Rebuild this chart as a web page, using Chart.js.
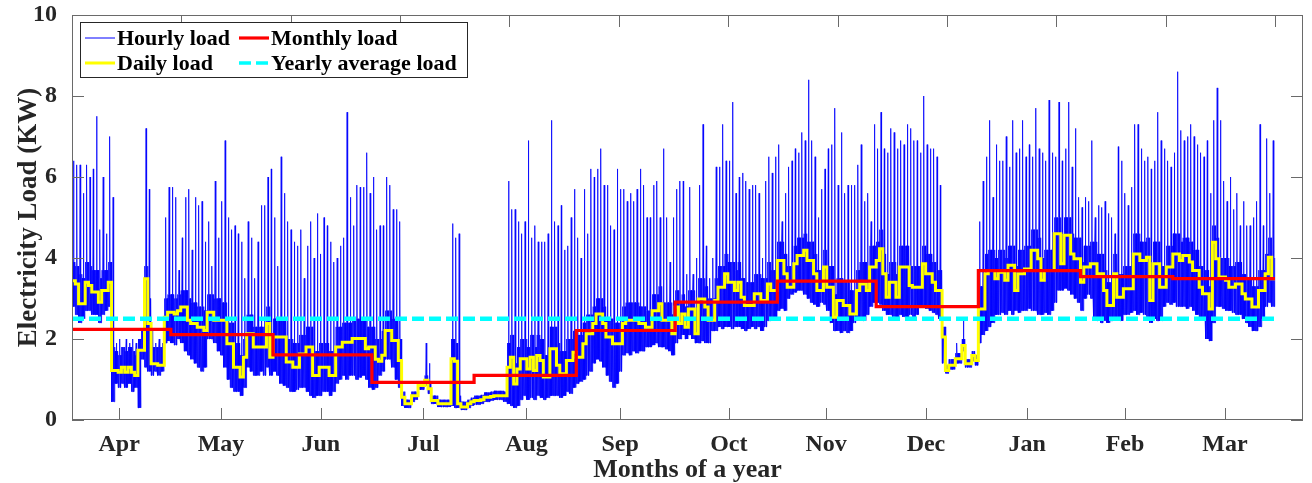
<!DOCTYPE html>
<html>
<head>
<meta charset="utf-8">
<script src="https://cdn.jsdelivr.net/npm/chart.js"></script>
<style>
html,body{margin:0;padding:0;background:#ffffff;}
#wrap{width:1312px;height:483px;position:relative;}
</style>
</head>
<body>
<div id="wrap"><canvas id="c" width="1312" height="483"></canvas></div>
<script>
// ---- axis labels / ticks (x in days from 1 April) ----
const monthLabels = ['Apr','May','Jun','Jul','Aug','Sep','Oct','Nov','Dec','Jan','Feb','Mar'];
const monthTickDays = [14.3,45.2,75.5,106.6,137.9,166.3,199.3,228.8,259.1,289.8,319.5,349.8];
const topTickDays = [33.2,66.4,99.5,132.7,165.9,199.1,232.3,265.5,298.6,331.8,365];
const yTicks = [0,2,4,6,8,10];

// ---- monthly load (stepped) ----
const monthStartDays = [0,30,61,91,122,153,183,214,244,275,306,334,365];
const monthlyLoad = [2.24,2.11,1.61,0.93,1.10,2.21,2.91,3.43,2.80,3.69,3.54,3.49];

// ---- yearly average ----
const yearlyAverage = 2.5;

// ---- daily load (one value per day) ----
const dailyLoad = [
3.44,3.36,2.87,2.87,3.40,3.32,3.16,3.16,2.91,3.20,
3.20,3.40,1.22,1.22,1.18,1.30,1.18,1.30,1.18,1.10,
1.72,1.72,3.49,2.38,1.39,1.39,1.35,1.35,2.54,2.66,
2.66,2.62,2.70,2.79,2.79,2.46,2.38,2.38,2.29,2.29,
2.21,2.66,2.66,2.46,2.46,2.46,2.46,1.88,1.88,1.30,
1.30,1.06,1.55,2.13,2.13,1.80,1.80,1.80,1.80,2.38,
1.55,2.05,2.05,2.05,2.05,1.43,1.43,1.30,1.30,1.63,
1.63,1.80,1.80,1.10,1.10,1.30,1.30,1.30,1.10,1.10,
1.80,1.80,1.92,1.92,1.92,2.01,2.01,2.01,2.01,1.76,
1.80,1.80,1.50,1.45,1.60,2.21,2.21,1.96,1.96,1.47,
0.56,0.40,0.40,0.60,0.60,0.85,0.85,0.98,0.77,0.48,
0.48,0.40,0.40,0.40,0.40,1.51,1.45,0.40,0.32,0.32,
0.40,0.45,0.48,0.48,0.50,0.56,0.56,0.58,0.60,0.60,
0.60,0.60,1.30,1.55,0.89,1.26,1.51,1.51,1.26,1.55,
1.22,1.59,1.47,1.06,1.06,1.76,1.76,1.35,1.14,1.14,
1.47,1.47,1.67,1.55,1.55,1.88,2.13,2.13,2.38,2.62,
2.62,2.38,2.05,2.05,1.88,1.88,1.88,2.38,2.46,2.46,
2.46,2.46,2.38,2.38,2.29,2.29,2.70,2.70,2.87,2.46,
2.46,2.46,2.13,2.79,2.38,2.62,2.29,2.74,2.74,2.13,
2.99,2.99,2.79,2.46,2.46,2.95,3.28,3.28,3.61,3.40,
3.40,3.20,3.40,3.03,2.83,2.83,2.83,3.12,3.12,2.95,
2.95,3.36,3.20,3.20,3.94,3.94,3.61,3.28,3.28,3.86,
4.06,4.06,4.19,3.94,3.94,3.61,3.20,3.20,3.78,3.28,
3.28,2.54,2.95,2.95,2.83,2.83,2.62,2.62,3.20,3.36,
3.36,3.20,3.78,3.78,3.94,4.23,3.61,3.03,3.40,3.40,
3.03,3.78,3.78,3.78,3.32,3.28,3.28,3.28,3.86,3.61,
3.61,3.40,3.20,3.20,2.05,1.22,1.35,1.35,1.51,1.51,
1.84,1.39,1.39,1.59,1.47,2.74,2.74,3.61,3.69,3.69,
3.49,3.65,3.65,3.45,3.82,3.82,3.20,3.61,3.61,3.73,
3.73,4.19,4.19,3.98,3.45,3.69,3.69,3.69,4.60,4.60,
3.86,4.56,4.56,4.10,3.98,3.98,3.40,3.78,3.78,3.86,
3.86,3.61,3.61,3.20,2.83,2.83,3.61,3.03,3.03,3.24,
3.24,3.24,4.10,4.10,3.94,3.94,4.02,2.95,3.86,3.86,
3.28,3.28,3.78,3.78,4.10,4.10,3.94,4.06,4.06,3.90,
3.69,3.69,3.28,3.12,3.12,2.74,4.39,3.98,3.53,3.53,
3.45,3.28,3.28,3.36,3.36,3.12,2.99,2.99,2.79,2.79,
3.20,3.20,3.61,4.02,3.49];

// ---- hourly load, per day: lowest hour, typical high hour, peak hour (0 = no spike) ----
const hourlyLow = [
2.8,2.6,2.4,2.5,2.7,2.7,2.6,2.6,2.4,2.6,
2.7,2.8,0.45,0.9,0.8,0.9,0.8,0.9,0.7,0.8,
0.3,1.5,1.3,1.2,1.1,1.2,1.1,1.2,1.9,1.95,
1.9,1.85,2.0,1.9,1.7,1.6,1.5,1.4,1.3,1.2,
1.3,2.0,2.0,1.9,1.7,1.6,1.3,1.0,0.8,0.7,
0.7,0.6,0.8,1.3,1.2,1.1,1.1,1.2,1.1,1.3,
1.1,1.2,1.1,0.9,0.85,0.8,0.7,0.7,0.75,0.8,
0.8,0.7,0.6,0.55,0.6,0.6,0.7,0.7,0.6,0.7,
0.9,1.0,1.1,1.0,1.1,1.1,1.0,1.05,1.1,1.0,
0.8,0.75,0.8,1.1,1.2,1.5,1.5,1.3,1.0,0.8,
0.35,0.3,0.3,0.45,0.5,0.75,0.75,0.85,0.65,0.4,
0.4,0.32,0.32,0.32,0.32,0.35,0.3,0.3,0.25,0.25,
0.3,0.35,0.38,0.38,0.4,0.45,0.45,0.48,0.5,0.5,
0.5,0.45,0.4,0.35,0.3,0.35,0.5,0.6,0.5,0.55,
0.5,0.6,0.55,0.5,0.55,0.6,0.6,0.6,0.55,0.6,
0.7,0.65,0.8,0.9,0.95,1.0,1.1,1.2,1.4,1.5,
1.45,1.3,1.1,0.95,0.8,0.9,1.2,1.6,1.65,1.6,
1.7,1.65,1.7,1.7,1.8,1.8,1.85,1.9,1.8,1.8,
1.75,1.7,1.6,1.9,2.0,2.1,2.0,2.1,2.0,1.9,
1.9,1.95,1.9,1.9,2.2,2.2,2.3,2.25,2.3,2.3,
2.25,2.3,2.3,2.25,2.2,2.25,2.3,2.25,2.3,2.2,
2.3,2.45,2.5,2.5,2.7,2.75,2.7,3.0,3.1,3.15,
3.2,3.2,3.1,3.0,2.9,2.85,2.8,2.9,2.85,2.7,
2.4,2.2,2.2,2.15,2.2,2.15,2.2,2.4,2.5,2.5,
2.45,2.6,2.8,2.9,2.9,2.85,2.7,2.6,2.6,2.55,
2.5,2.6,2.55,2.5,2.6,2.55,2.6,2.8,2.8,2.75,
2.7,2.65,2.6,2.5,1.4,1.15,1.25,1.25,1.4,1.4,
1.7,1.3,1.3,1.45,1.35,1.9,2.1,2.2,2.3,2.4,
2.6,2.6,2.65,2.6,2.7,2.6,2.7,2.65,2.7,2.7,
2.75,2.7,2.7,2.6,2.6,2.65,2.6,2.7,2.9,3.2,
3.2,3.25,3.2,3.1,3.0,2.9,2.7,3.0,3.1,3.0,
2.5,2.45,2.4,2.45,2.4,2.45,2.5,2.45,2.45,2.6,
2.6,2.65,2.7,2.6,2.65,2.6,2.55,2.4,2.5,2.45,
2.45,2.8,2.9,2.85,2.9,2.8,2.8,2.8,2.75,2.8,
2.7,2.6,2.5,2.5,2.0,1.95,2.4,2.8,2.8,2.75,
2.7,2.7,2.65,2.6,2.6,2.5,2.4,2.3,2.2,2.2,
2.3,2.5,2.8,2.9,2.8];

const hourlyHigh = [
3.9,3.8,3.6,3.5,3.9,3.8,3.7,3.7,3.5,3.7,
3.7,3.9,1.8,1.7,1.6,1.8,1.7,1.8,1.7,1.6,
2.0,2.2,3.8,3.0,1.8,1.8,1.8,1.8,3.0,3.1,
3.1,3.0,3.1,3.2,3.2,3.0,2.9,2.9,2.8,2.8,
2.7,3.1,3.1,3.0,3.0,2.9,2.9,2.4,2.4,1.9,
1.9,1.6,2.0,2.6,2.6,2.3,2.3,2.3,2.3,2.8,
2.1,2.5,2.5,2.5,2.5,2.0,2.0,1.9,1.9,2.1,
2.1,2.3,2.3,1.7,1.7,1.9,1.9,1.9,1.7,1.7,
2.3,2.3,2.4,2.4,2.4,2.5,2.5,2.5,2.5,2.3,
2.3,2.3,2.0,2.0,2.2,2.7,2.7,2.5,2.5,2.0,
0.7,0.5,0.5,0.7,0.7,0.95,0.95,1.1,0.9,0.6,
0.6,0.5,0.5,0.5,0.5,2.0,1.9,0.6,0.45,0.45,
0.5,0.55,0.6,0.6,0.62,0.68,0.68,0.7,0.72,0.72,
0.72,0.7,1.9,2.1,1.4,1.8,2.0,2.0,1.8,2.1,
1.8,2.1,2.0,1.6,1.6,2.3,2.3,1.9,1.7,1.7,
2.0,2.0,2.2,2.1,2.1,2.4,2.6,2.6,2.8,3.0,
3.0,2.8,2.5,2.5,2.4,2.4,2.4,2.8,2.9,2.9,
2.9,2.9,2.8,2.8,2.7,2.7,3.1,3.1,3.3,2.9,
2.9,2.9,2.6,3.2,2.9,3.1,2.8,3.2,3.2,2.7,
3.5,3.5,3.3,3.0,3.0,3.5,3.8,3.8,4.1,3.9,
3.9,3.7,3.9,3.5,3.4,3.4,3.4,3.6,3.6,3.5,
3.5,3.9,3.7,3.7,4.4,4.4,4.1,3.8,3.8,4.3,
4.5,4.5,4.6,4.4,4.4,4.1,3.7,3.7,4.2,3.8,
3.8,3.1,3.5,3.5,3.4,3.4,3.2,3.2,3.7,3.9,
3.9,3.7,4.3,4.3,4.4,4.7,4.1,3.6,3.9,3.9,
3.6,4.3,4.3,4.3,3.8,3.8,3.8,3.8,4.3,4.1,
4.1,3.9,3.7,3.7,2.3,1.35,1.5,1.5,1.65,1.65,
2.0,1.5,1.5,1.7,1.6,3.3,3.3,4.1,4.2,4.2,
4.0,4.2,4.2,4.0,4.3,4.3,3.8,4.2,4.2,4.3,
4.3,4.7,4.7,4.5,4.0,4.2,4.2,4.2,5.0,5.0,
4.4,5.0,5.0,4.6,4.5,4.5,3.9,4.3,4.3,4.4,
4.4,4.1,4.1,3.7,3.4,3.4,4.1,3.6,3.6,3.8,
3.8,3.8,4.6,4.6,4.4,4.4,4.5,3.5,4.4,4.4,
3.8,3.8,4.3,4.3,4.6,4.6,4.4,4.5,4.5,4.4,
4.2,4.2,3.8,3.7,3.7,3.3,4.8,4.5,4.0,4.0,
4.0,3.8,3.8,3.9,3.9,3.6,3.5,3.5,3.3,3.3,
3.7,3.7,4.1,4.5,4.0];

const hourlyPeak = [
6.4,6.3,6.3,5.6,6.3,6.0,6.2,7.5,4.7,6.0,
4.6,7.0,5.5,1.9,2.0,1.8,2.0,1.9,2.0,1.9,
1.8,0,7.2,5.7,2.2,1.9,2.0,1.9,5.0,5.75,
5.75,5.5,3.7,4.5,5.5,5.7,4.2,5.5,5.3,5.4,
4.4,4.9,3.8,5.9,4.5,5.4,6.9,5.0,4.7,4.8,
4.6,4.4,3.5,4.9,4.5,3.5,4.4,5.3,5.3,6.0,
6.2,5.0,3.8,6.5,5.6,4.9,4.7,4.4,4.3,4.7,
3.5,4.3,4.9,4.0,5.1,4.1,5.0,4.8,4.4,3.9,
4.0,4.3,4.5,7.6,5.5,4.8,5.8,5.75,5.75,6.6,
5.6,6.0,4.7,4.8,4.8,6.0,5.8,5.2,5.2,4.9,
0,0,0,0,0,0,0,1.9,1.4,0,
0,0,0,0,0,4.85,4.5,4.6,0,0,
0,0,0,0,0,0,0,0,0,0,
0,0,5.9,5.2,5.2,4.9,4.6,4.9,6.9,4.5,
4.8,4.4,4.4,4.4,4.6,7.4,4.9,4.8,5.3,4.2,
4.3,5.0,5.7,4.5,4.0,5.7,4.6,6.2,6.0,6.2,
6.7,5.8,5.8,4.8,4.7,6.2,5.7,5.7,5.4,5.6,
5.4,5.7,6.2,5.8,5.0,5.0,5.8,5.9,5.0,6.7,
5.0,3.9,5.0,5.7,5.9,5.9,3.6,5.75,3.6,4.0,
5.8,7.3,4.3,3.5,4.0,6.25,6.25,7.3,6.4,6.4,
7.85,5.6,6.0,6.1,5.9,5.7,5.8,5.8,5.6,4.0,
5.9,6.5,6.1,6.5,6.8,4.9,5.6,6.25,6.4,6.7,
6.6,7.1,6.9,8.4,6.9,6.5,5.0,5.7,6.2,6.7,
6.8,7.7,5.8,7.1,5.6,5.8,5.8,5.8,6.3,6.8,
5.4,5.6,4.9,7.3,6.7,7.6,6.7,6.6,7.2,7.1,
6.7,6.9,6.8,7.3,7.2,6.9,6.9,6.6,8.0,6.8,
6.7,6.7,6.5,5.8,0,0,0,0,1.9,0,
2.5,0,0,0,0,4.9,5.9,6.5,7.4,5.5,
6.8,6.4,6.4,7.0,6.25,7.4,6.6,6.7,7.4,6.5,
6.8,6.5,7.7,6.7,6.6,6.4,7.9,6.6,6.5,7.85,
6.4,6.7,7.85,6.25,7.2,5.5,5.25,5.5,5.4,6.9,
5.0,5.3,5.25,5.4,5.1,5.0,4.6,6.75,6.4,5.6,
5.3,5.75,7.3,7.3,6.7,6.4,6.5,6.2,6.4,7.6,
6.9,6.7,6.4,6.25,6.6,8.6,7.15,6.9,7.0,7.3,
7.0,6.8,6.6,6.5,6.9,5.6,7.4,8.2,7.4,5.9,
5.4,6.0,5.2,5.6,4.8,5.4,4.8,4.8,5.0,5.4,
7.3,4.8,6.95,5.6,6.9];

// ---- build datasets from the arrays ----
const hourlyPts = [];
for (let d = 0; d < hourlyLow.length; d++) {
  const lo = hourlyLow[d], hi = hourlyHigh[d], pk = hourlyPeak[d];
  hourlyPts.push({x:d+0.03,y:lo},{x:d+0.14,y:hi},{x:d+0.25,y:lo},{x:d+0.36,y:hi});
  if (pk > hi) hourlyPts.push({x:d+0.47,y:pk});
  hourlyPts.push({x:d+0.58,y:lo},{x:d+0.69,y:hi},{x:d+0.8,y:lo},{x:d+0.91,y:hi});
}
const dailyPts = dailyLoad.map((v,i)=>({x:i,y:v}));
dailyPts.push({x:dailyLoad.length,y:dailyLoad[dailyLoad.length-1]});
const monthlyPts = monthStartDays.map((d,i)=>({x:d,y:monthlyLoad[Math.min(i,monthlyLoad.length-1)]}));
const yearlyPts = [{x:0,y:yearlyAverage},{x:365,y:yearlyAverage}];

const SERIF = "'Liberation Serif','Times New Roman',serif";
const TXT = '#262626';

const frameLegendPlugin = {
  id:'frameLegend',
  afterDraw(chart){
    const {ctx, chartArea:a, scales:{x,y}} = chart;
    ctx.save();
    ctx.strokeStyle = '#6a6a6a';
    ctx.lineWidth = 1;
    ctx.strokeRect(Math.round(a.left)+0.5, Math.round(a.top)+0.5,
                   Math.round(a.right-a.left)-1, Math.round(a.bottom-a.top)-1);
    const tl = 12;
    ctx.beginPath();
    yTicks.forEach(v=>{
      const py = Math.round(y.getPixelForValue(v))+0.5;
      ctx.moveTo(a.left, py); ctx.lineTo(a.left+tl, py);
      ctx.moveTo(a.right, py); ctx.lineTo(a.right-tl, py);
    });
    monthTickDays.forEach(v=>{
      const px = Math.round(x.getPixelForValue(v))+0.5;
      ctx.moveTo(px, a.bottom); ctx.lineTo(px, a.bottom-tl);
    });
    topTickDays.forEach(v=>{
      const px = Math.round(x.getPixelForValue(v))+0.5;
      ctx.moveTo(px, a.top); ctx.lineTo(px, a.top+tl);
    });
    ctx.stroke();

    // legend (2 columns)
    const bx = a.left+8, by = a.top+7, bw = 387, bh = 55;
    ctx.fillStyle = '#ffffff';
    ctx.fillRect(bx, by, bw, bh);
    ctx.strokeStyle = '#262626';
    ctx.lineWidth = 1;
    ctx.strokeRect(bx+0.5, by+0.5, bw, bh);
    const ds = chart.data.datasets;
    const items = [
      {ds:ds[0], col:0, row:0},
      {ds:ds[2], col:1, row:0},
      {ds:ds[1], col:0, row:1},
      {ds:ds[3], col:1, row:1}
    ];
    ctx.font = "bold 22px " + SERIF;
    ctx.textBaseline = 'middle';
    ctx.textAlign = 'left';
    items.forEach(it=>{
      const x0 = bx + 5 + it.col*154;
      const yy = by + 16 + it.row*25;
      ctx.save();
      ctx.strokeStyle = it.ds.borderColor;
      ctx.lineWidth = it.ds.legendWidth;
      ctx.setLineDash(it.ds.borderDash || []);
      ctx.beginPath();
      ctx.moveTo(x0, yy); ctx.lineTo(x0+30, yy);
      ctx.stroke();
      ctx.restore();
      ctx.fillStyle = '#000000';
      ctx.fillText(it.ds.label, x0+32, yy+1);
    });
    ctx.restore();
  }
};

new Chart(document.getElementById('c'), {
  type:'line',
  data:{datasets:[
    {label:'Hourly load', data:hourlyPts, borderColor:'#0000ff', borderWidth:0.8, legendWidth:1,
     pointRadius:0, tension:0, order:4},
    {label:'Daily load', data:dailyPts, borderColor:'#ffff00', borderWidth:3, legendWidth:3,
     stepped:true, pointRadius:0, order:3},
    {label:'Monthly load', data:monthlyPts, borderColor:'#ff0000', borderWidth:3.2, legendWidth:3.2,
     stepped:true, pointRadius:0, order:2},
    {label:'Yearly average load', data:yearlyPts, borderColor:'#00ffff', borderWidth:4.5, legendWidth:3.5,
     borderDash:[12,5], pointRadius:0, order:1}
  ]},
  options:{
    responsive:false,
    animation:false,
    devicePixelRatio:1,
    events:[],
    layout:{padding:{top:15,right:9,left:0,bottom:0}},
    plugins:{legend:{display:false}, tooltip:{enabled:false}},
    scales:{
      x:{
        type:'linear', position:'bottom', min:0, max:373.5,
        afterBuildTicks:(s)=>{ s.ticks = monthTickDays.map(v=>({value:v})); },
        afterFit:(s)=>{ s.height = 63; s.paddingLeft = 0; s.paddingRight = 0; },
        grid:{display:false}, border:{display:false},
        ticks:{autoSkip:false, maxRotation:0, minRotation:0, padding:2, color:TXT,
               font:{family:SERIF, weight:'bold', size:24},
               callback:(v,i)=>monthLabels[i]},
        title:{display:true, text:'Months of a year', color:TXT,
               font:{family:SERIF, weight:'bold', size:26, lineHeight:1.0},
               padding:{top:0,bottom:0}}
      },
      y:{
        min:0, max:10,
        afterBuildTicks:(s)=>{ s.ticks = yTicks.map(v=>({value:v})); },
        afterFit:(s)=>{ s.width = 72; s.paddingTop = 0; s.paddingBottom = 0; },
        grid:{display:false}, border:{display:false},
        ticks:{padding:7, color:TXT, font:{family:SERIF, weight:'bold', size:24}},
        title:{display:true, text:'Electricity Load (KW)', color:TXT,
               font:{family:SERIF, weight:'bold', size:27, lineHeight:1.2},
               padding:{top:13,bottom:0}}
      }
    }
  },
  plugins:[frameLegendPlugin]
});
</script>
</body>
</html>
